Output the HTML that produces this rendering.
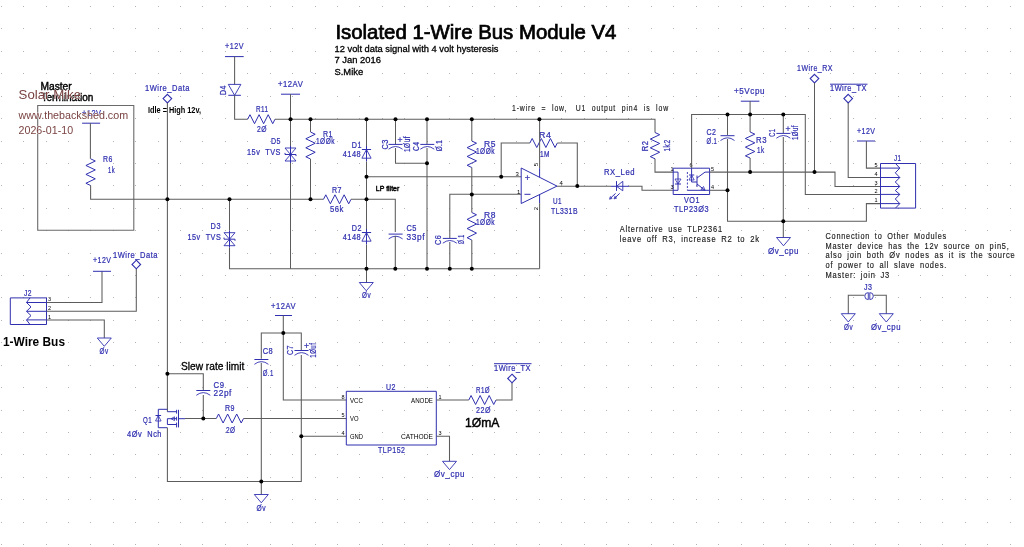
<!DOCTYPE html>
<html><head><meta charset="utf-8"><style>
html,body{margin:0;padding:0;background:#fff;width:1024px;height:547px;overflow:hidden}
svg text{white-space:pre}
svg{display:block;font-family:"Liberation Sans",sans-serif;will-change:transform}
</style></head><body>
<svg width="1024" height="547" viewBox="0 0 1024 547">
<rect width="1024" height="547" fill="#fff"/>
<path d="M1 6h1v1h-1zM1 28h1v1h-1zM1 51h1v1h-1zM1 73h1v1h-1zM1 96h1v1h-1zM1 118h1v1h-1zM1 141h1v1h-1zM1 163h1v1h-1zM1 185h1v1h-1zM1 208h1v1h-1zM1 230h1v1h-1zM1 253h1v1h-1zM1 275h1v1h-1zM1 297h1v1h-1zM1 320h1v1h-1zM1 342h1v1h-1zM1 365h1v1h-1zM1 387h1v1h-1zM1 410h1v1h-1zM1 432h1v1h-1zM1 454h1v1h-1zM1 477h1v1h-1zM1 499h1v1h-1zM1 522h1v1h-1zM1 544h1v1h-1zM23 6h1v1h-1zM23 28h1v1h-1zM23 51h1v1h-1zM23 73h1v1h-1zM23 96h1v1h-1zM23 118h1v1h-1zM23 141h1v1h-1zM23 163h1v1h-1zM23 185h1v1h-1zM23 208h1v1h-1zM23 230h1v1h-1zM23 253h1v1h-1zM23 275h1v1h-1zM23 297h1v1h-1zM23 320h1v1h-1zM23 342h1v1h-1zM23 365h1v1h-1zM23 387h1v1h-1zM23 410h1v1h-1zM23 432h1v1h-1zM23 454h1v1h-1zM23 477h1v1h-1zM23 499h1v1h-1zM23 522h1v1h-1zM23 544h1v1h-1zM46 6h1v1h-1zM46 28h1v1h-1zM46 51h1v1h-1zM46 73h1v1h-1zM46 96h1v1h-1zM46 118h1v1h-1zM46 141h1v1h-1zM46 163h1v1h-1zM46 185h1v1h-1zM46 208h1v1h-1zM46 230h1v1h-1zM46 253h1v1h-1zM46 275h1v1h-1zM46 297h1v1h-1zM46 320h1v1h-1zM46 342h1v1h-1zM46 365h1v1h-1zM46 387h1v1h-1zM46 410h1v1h-1zM46 432h1v1h-1zM46 454h1v1h-1zM46 477h1v1h-1zM46 499h1v1h-1zM46 522h1v1h-1zM46 544h1v1h-1zM68 6h1v1h-1zM68 28h1v1h-1zM68 51h1v1h-1zM68 73h1v1h-1zM68 96h1v1h-1zM68 118h1v1h-1zM68 141h1v1h-1zM68 163h1v1h-1zM68 185h1v1h-1zM68 208h1v1h-1zM68 230h1v1h-1zM68 253h1v1h-1zM68 275h1v1h-1zM68 297h1v1h-1zM68 320h1v1h-1zM68 342h1v1h-1zM68 365h1v1h-1zM68 387h1v1h-1zM68 410h1v1h-1zM68 432h1v1h-1zM68 454h1v1h-1zM68 477h1v1h-1zM68 499h1v1h-1zM68 522h1v1h-1zM68 544h1v1h-1zM90 6h1v1h-1zM90 28h1v1h-1zM90 51h1v1h-1zM90 73h1v1h-1zM90 96h1v1h-1zM90 118h1v1h-1zM90 141h1v1h-1zM90 163h1v1h-1zM90 185h1v1h-1zM90 208h1v1h-1zM90 230h1v1h-1zM90 253h1v1h-1zM90 275h1v1h-1zM90 297h1v1h-1zM90 320h1v1h-1zM90 342h1v1h-1zM90 365h1v1h-1zM90 387h1v1h-1zM90 410h1v1h-1zM90 432h1v1h-1zM90 454h1v1h-1zM90 477h1v1h-1zM90 499h1v1h-1zM90 522h1v1h-1zM90 544h1v1h-1zM113 6h1v1h-1zM113 28h1v1h-1zM113 51h1v1h-1zM113 73h1v1h-1zM113 96h1v1h-1zM113 118h1v1h-1zM113 141h1v1h-1zM113 163h1v1h-1zM113 185h1v1h-1zM113 208h1v1h-1zM113 230h1v1h-1zM113 253h1v1h-1zM113 275h1v1h-1zM113 297h1v1h-1zM113 320h1v1h-1zM113 342h1v1h-1zM113 365h1v1h-1zM113 387h1v1h-1zM113 410h1v1h-1zM113 432h1v1h-1zM113 454h1v1h-1zM113 477h1v1h-1zM113 499h1v1h-1zM113 522h1v1h-1zM113 544h1v1h-1zM135 6h1v1h-1zM135 28h1v1h-1zM135 51h1v1h-1zM135 73h1v1h-1zM135 96h1v1h-1zM135 118h1v1h-1zM135 141h1v1h-1zM135 163h1v1h-1zM135 185h1v1h-1zM135 208h1v1h-1zM135 230h1v1h-1zM135 253h1v1h-1zM135 275h1v1h-1zM135 297h1v1h-1zM135 320h1v1h-1zM135 342h1v1h-1zM135 365h1v1h-1zM135 387h1v1h-1zM135 410h1v1h-1zM135 432h1v1h-1zM135 454h1v1h-1zM135 477h1v1h-1zM135 499h1v1h-1zM135 522h1v1h-1zM135 544h1v1h-1zM158 6h1v1h-1zM158 28h1v1h-1zM158 51h1v1h-1zM158 73h1v1h-1zM158 96h1v1h-1zM158 118h1v1h-1zM158 141h1v1h-1zM158 163h1v1h-1zM158 185h1v1h-1zM158 208h1v1h-1zM158 230h1v1h-1zM158 253h1v1h-1zM158 275h1v1h-1zM158 297h1v1h-1zM158 320h1v1h-1zM158 342h1v1h-1zM158 365h1v1h-1zM158 387h1v1h-1zM158 410h1v1h-1zM158 432h1v1h-1zM158 454h1v1h-1zM158 477h1v1h-1zM158 499h1v1h-1zM158 522h1v1h-1zM158 544h1v1h-1zM180 6h1v1h-1zM180 28h1v1h-1zM180 51h1v1h-1zM180 73h1v1h-1zM180 96h1v1h-1zM180 118h1v1h-1zM180 141h1v1h-1zM180 163h1v1h-1zM180 185h1v1h-1zM180 208h1v1h-1zM180 230h1v1h-1zM180 253h1v1h-1zM180 275h1v1h-1zM180 297h1v1h-1zM180 320h1v1h-1zM180 342h1v1h-1zM180 365h1v1h-1zM180 387h1v1h-1zM180 410h1v1h-1zM180 432h1v1h-1zM180 454h1v1h-1zM180 477h1v1h-1zM180 499h1v1h-1zM180 522h1v1h-1zM180 544h1v1h-1zM202 6h1v1h-1zM202 28h1v1h-1zM202 51h1v1h-1zM202 73h1v1h-1zM202 96h1v1h-1zM202 118h1v1h-1zM202 141h1v1h-1zM202 163h1v1h-1zM202 185h1v1h-1zM202 208h1v1h-1zM202 230h1v1h-1zM202 253h1v1h-1zM202 275h1v1h-1zM202 297h1v1h-1zM202 320h1v1h-1zM202 342h1v1h-1zM202 365h1v1h-1zM202 387h1v1h-1zM202 410h1v1h-1zM202 432h1v1h-1zM202 454h1v1h-1zM202 477h1v1h-1zM202 499h1v1h-1zM202 522h1v1h-1zM202 544h1v1h-1zM225 6h1v1h-1zM225 28h1v1h-1zM225 51h1v1h-1zM225 73h1v1h-1zM225 96h1v1h-1zM225 118h1v1h-1zM225 141h1v1h-1zM225 163h1v1h-1zM225 185h1v1h-1zM225 208h1v1h-1zM225 230h1v1h-1zM225 253h1v1h-1zM225 275h1v1h-1zM225 297h1v1h-1zM225 320h1v1h-1zM225 342h1v1h-1zM225 365h1v1h-1zM225 387h1v1h-1zM225 410h1v1h-1zM225 432h1v1h-1zM225 454h1v1h-1zM225 477h1v1h-1zM225 499h1v1h-1zM225 522h1v1h-1zM225 544h1v1h-1zM247 6h1v1h-1zM247 28h1v1h-1zM247 51h1v1h-1zM247 73h1v1h-1zM247 96h1v1h-1zM247 118h1v1h-1zM247 141h1v1h-1zM247 163h1v1h-1zM247 185h1v1h-1zM247 208h1v1h-1zM247 230h1v1h-1zM247 253h1v1h-1zM247 275h1v1h-1zM247 297h1v1h-1zM247 320h1v1h-1zM247 342h1v1h-1zM247 365h1v1h-1zM247 387h1v1h-1zM247 410h1v1h-1zM247 432h1v1h-1zM247 454h1v1h-1zM247 477h1v1h-1zM247 499h1v1h-1zM247 522h1v1h-1zM247 544h1v1h-1zM270 6h1v1h-1zM270 28h1v1h-1zM270 51h1v1h-1zM270 73h1v1h-1zM270 96h1v1h-1zM270 118h1v1h-1zM270 141h1v1h-1zM270 163h1v1h-1zM270 185h1v1h-1zM270 208h1v1h-1zM270 230h1v1h-1zM270 253h1v1h-1zM270 275h1v1h-1zM270 297h1v1h-1zM270 320h1v1h-1zM270 342h1v1h-1zM270 365h1v1h-1zM270 387h1v1h-1zM270 410h1v1h-1zM270 432h1v1h-1zM270 454h1v1h-1zM270 477h1v1h-1zM270 499h1v1h-1zM270 522h1v1h-1zM270 544h1v1h-1zM292 6h1v1h-1zM292 28h1v1h-1zM292 51h1v1h-1zM292 73h1v1h-1zM292 96h1v1h-1zM292 118h1v1h-1zM292 141h1v1h-1zM292 163h1v1h-1zM292 185h1v1h-1zM292 208h1v1h-1zM292 230h1v1h-1zM292 253h1v1h-1zM292 275h1v1h-1zM292 297h1v1h-1zM292 320h1v1h-1zM292 342h1v1h-1zM292 365h1v1h-1zM292 387h1v1h-1zM292 410h1v1h-1zM292 432h1v1h-1zM292 454h1v1h-1zM292 477h1v1h-1zM292 499h1v1h-1zM292 522h1v1h-1zM292 544h1v1h-1zM315 6h1v1h-1zM315 28h1v1h-1zM315 51h1v1h-1zM315 73h1v1h-1zM315 96h1v1h-1zM315 118h1v1h-1zM315 141h1v1h-1zM315 163h1v1h-1zM315 185h1v1h-1zM315 208h1v1h-1zM315 230h1v1h-1zM315 253h1v1h-1zM315 275h1v1h-1zM315 297h1v1h-1zM315 320h1v1h-1zM315 342h1v1h-1zM315 365h1v1h-1zM315 387h1v1h-1zM315 410h1v1h-1zM315 432h1v1h-1zM315 454h1v1h-1zM315 477h1v1h-1zM315 499h1v1h-1zM315 522h1v1h-1zM315 544h1v1h-1zM337 6h1v1h-1zM337 28h1v1h-1zM337 51h1v1h-1zM337 73h1v1h-1zM337 96h1v1h-1zM337 118h1v1h-1zM337 141h1v1h-1zM337 163h1v1h-1zM337 185h1v1h-1zM337 208h1v1h-1zM337 230h1v1h-1zM337 253h1v1h-1zM337 275h1v1h-1zM337 297h1v1h-1zM337 320h1v1h-1zM337 342h1v1h-1zM337 365h1v1h-1zM337 387h1v1h-1zM337 410h1v1h-1zM337 432h1v1h-1zM337 454h1v1h-1zM337 477h1v1h-1zM337 499h1v1h-1zM337 522h1v1h-1zM337 544h1v1h-1zM359 6h1v1h-1zM359 28h1v1h-1zM359 51h1v1h-1zM359 73h1v1h-1zM359 96h1v1h-1zM359 118h1v1h-1zM359 141h1v1h-1zM359 163h1v1h-1zM359 185h1v1h-1zM359 208h1v1h-1zM359 230h1v1h-1zM359 253h1v1h-1zM359 275h1v1h-1zM359 297h1v1h-1zM359 320h1v1h-1zM359 342h1v1h-1zM359 365h1v1h-1zM359 387h1v1h-1zM359 410h1v1h-1zM359 432h1v1h-1zM359 454h1v1h-1zM359 477h1v1h-1zM359 499h1v1h-1zM359 522h1v1h-1zM359 544h1v1h-1zM382 6h1v1h-1zM382 28h1v1h-1zM382 51h1v1h-1zM382 73h1v1h-1zM382 96h1v1h-1zM382 118h1v1h-1zM382 141h1v1h-1zM382 163h1v1h-1zM382 185h1v1h-1zM382 208h1v1h-1zM382 230h1v1h-1zM382 253h1v1h-1zM382 275h1v1h-1zM382 297h1v1h-1zM382 320h1v1h-1zM382 342h1v1h-1zM382 365h1v1h-1zM382 387h1v1h-1zM382 410h1v1h-1zM382 432h1v1h-1zM382 454h1v1h-1zM382 477h1v1h-1zM382 499h1v1h-1zM382 522h1v1h-1zM382 544h1v1h-1zM404 6h1v1h-1zM404 28h1v1h-1zM404 51h1v1h-1zM404 73h1v1h-1zM404 96h1v1h-1zM404 118h1v1h-1zM404 141h1v1h-1zM404 163h1v1h-1zM404 185h1v1h-1zM404 208h1v1h-1zM404 230h1v1h-1zM404 253h1v1h-1zM404 275h1v1h-1zM404 297h1v1h-1zM404 320h1v1h-1zM404 342h1v1h-1zM404 365h1v1h-1zM404 387h1v1h-1zM404 410h1v1h-1zM404 432h1v1h-1zM404 454h1v1h-1zM404 477h1v1h-1zM404 499h1v1h-1zM404 522h1v1h-1zM404 544h1v1h-1zM427 6h1v1h-1zM427 28h1v1h-1zM427 51h1v1h-1zM427 73h1v1h-1zM427 96h1v1h-1zM427 118h1v1h-1zM427 141h1v1h-1zM427 163h1v1h-1zM427 185h1v1h-1zM427 208h1v1h-1zM427 230h1v1h-1zM427 253h1v1h-1zM427 275h1v1h-1zM427 297h1v1h-1zM427 320h1v1h-1zM427 342h1v1h-1zM427 365h1v1h-1zM427 387h1v1h-1zM427 410h1v1h-1zM427 432h1v1h-1zM427 454h1v1h-1zM427 477h1v1h-1zM427 499h1v1h-1zM427 522h1v1h-1zM427 544h1v1h-1zM449 6h1v1h-1zM449 28h1v1h-1zM449 51h1v1h-1zM449 73h1v1h-1zM449 96h1v1h-1zM449 118h1v1h-1zM449 141h1v1h-1zM449 163h1v1h-1zM449 185h1v1h-1zM449 208h1v1h-1zM449 230h1v1h-1zM449 253h1v1h-1zM449 275h1v1h-1zM449 297h1v1h-1zM449 320h1v1h-1zM449 342h1v1h-1zM449 365h1v1h-1zM449 387h1v1h-1zM449 410h1v1h-1zM449 432h1v1h-1zM449 454h1v1h-1zM449 477h1v1h-1zM449 499h1v1h-1zM449 522h1v1h-1zM449 544h1v1h-1zM472 6h1v1h-1zM472 28h1v1h-1zM472 51h1v1h-1zM472 73h1v1h-1zM472 96h1v1h-1zM472 118h1v1h-1zM472 141h1v1h-1zM472 163h1v1h-1zM472 185h1v1h-1zM472 208h1v1h-1zM472 230h1v1h-1zM472 253h1v1h-1zM472 275h1v1h-1zM472 297h1v1h-1zM472 320h1v1h-1zM472 342h1v1h-1zM472 365h1v1h-1zM472 387h1v1h-1zM472 410h1v1h-1zM472 432h1v1h-1zM472 454h1v1h-1zM472 477h1v1h-1zM472 499h1v1h-1zM472 522h1v1h-1zM472 544h1v1h-1zM494 6h1v1h-1zM494 28h1v1h-1zM494 51h1v1h-1zM494 73h1v1h-1zM494 96h1v1h-1zM494 118h1v1h-1zM494 141h1v1h-1zM494 163h1v1h-1zM494 185h1v1h-1zM494 208h1v1h-1zM494 230h1v1h-1zM494 253h1v1h-1zM494 275h1v1h-1zM494 297h1v1h-1zM494 320h1v1h-1zM494 342h1v1h-1zM494 365h1v1h-1zM494 387h1v1h-1zM494 410h1v1h-1zM494 432h1v1h-1zM494 454h1v1h-1zM494 477h1v1h-1zM494 499h1v1h-1zM494 522h1v1h-1zM494 544h1v1h-1zM516 6h1v1h-1zM516 28h1v1h-1zM516 51h1v1h-1zM516 73h1v1h-1zM516 96h1v1h-1zM516 118h1v1h-1zM516 141h1v1h-1zM516 163h1v1h-1zM516 185h1v1h-1zM516 208h1v1h-1zM516 230h1v1h-1zM516 253h1v1h-1zM516 275h1v1h-1zM516 297h1v1h-1zM516 320h1v1h-1zM516 342h1v1h-1zM516 365h1v1h-1zM516 387h1v1h-1zM516 410h1v1h-1zM516 432h1v1h-1zM516 454h1v1h-1zM516 477h1v1h-1zM516 499h1v1h-1zM516 522h1v1h-1zM516 544h1v1h-1zM539 6h1v1h-1zM539 28h1v1h-1zM539 51h1v1h-1zM539 73h1v1h-1zM539 96h1v1h-1zM539 118h1v1h-1zM539 141h1v1h-1zM539 163h1v1h-1zM539 185h1v1h-1zM539 208h1v1h-1zM539 230h1v1h-1zM539 253h1v1h-1zM539 275h1v1h-1zM539 297h1v1h-1zM539 320h1v1h-1zM539 342h1v1h-1zM539 365h1v1h-1zM539 387h1v1h-1zM539 410h1v1h-1zM539 432h1v1h-1zM539 454h1v1h-1zM539 477h1v1h-1zM539 499h1v1h-1zM539 522h1v1h-1zM539 544h1v1h-1zM561 6h1v1h-1zM561 28h1v1h-1zM561 51h1v1h-1zM561 73h1v1h-1zM561 96h1v1h-1zM561 118h1v1h-1zM561 141h1v1h-1zM561 163h1v1h-1zM561 185h1v1h-1zM561 208h1v1h-1zM561 230h1v1h-1zM561 253h1v1h-1zM561 275h1v1h-1zM561 297h1v1h-1zM561 320h1v1h-1zM561 342h1v1h-1zM561 365h1v1h-1zM561 387h1v1h-1zM561 410h1v1h-1zM561 432h1v1h-1zM561 454h1v1h-1zM561 477h1v1h-1zM561 499h1v1h-1zM561 522h1v1h-1zM561 544h1v1h-1zM584 6h1v1h-1zM584 28h1v1h-1zM584 51h1v1h-1zM584 73h1v1h-1zM584 96h1v1h-1zM584 118h1v1h-1zM584 141h1v1h-1zM584 163h1v1h-1zM584 185h1v1h-1zM584 208h1v1h-1zM584 230h1v1h-1zM584 253h1v1h-1zM584 275h1v1h-1zM584 297h1v1h-1zM584 320h1v1h-1zM584 342h1v1h-1zM584 365h1v1h-1zM584 387h1v1h-1zM584 410h1v1h-1zM584 432h1v1h-1zM584 454h1v1h-1zM584 477h1v1h-1zM584 499h1v1h-1zM584 522h1v1h-1zM584 544h1v1h-1zM606 6h1v1h-1zM606 28h1v1h-1zM606 51h1v1h-1zM606 73h1v1h-1zM606 96h1v1h-1zM606 118h1v1h-1zM606 141h1v1h-1zM606 163h1v1h-1zM606 185h1v1h-1zM606 208h1v1h-1zM606 230h1v1h-1zM606 253h1v1h-1zM606 275h1v1h-1zM606 297h1v1h-1zM606 320h1v1h-1zM606 342h1v1h-1zM606 365h1v1h-1zM606 387h1v1h-1zM606 410h1v1h-1zM606 432h1v1h-1zM606 454h1v1h-1zM606 477h1v1h-1zM606 499h1v1h-1zM606 522h1v1h-1zM606 544h1v1h-1zM628 6h1v1h-1zM628 28h1v1h-1zM628 51h1v1h-1zM628 73h1v1h-1zM628 96h1v1h-1zM628 118h1v1h-1zM628 141h1v1h-1zM628 163h1v1h-1zM628 185h1v1h-1zM628 208h1v1h-1zM628 230h1v1h-1zM628 253h1v1h-1zM628 275h1v1h-1zM628 297h1v1h-1zM628 320h1v1h-1zM628 342h1v1h-1zM628 365h1v1h-1zM628 387h1v1h-1zM628 410h1v1h-1zM628 432h1v1h-1zM628 454h1v1h-1zM628 477h1v1h-1zM628 499h1v1h-1zM628 522h1v1h-1zM628 544h1v1h-1zM651 6h1v1h-1zM651 28h1v1h-1zM651 51h1v1h-1zM651 73h1v1h-1zM651 96h1v1h-1zM651 118h1v1h-1zM651 141h1v1h-1zM651 163h1v1h-1zM651 185h1v1h-1zM651 208h1v1h-1zM651 230h1v1h-1zM651 253h1v1h-1zM651 275h1v1h-1zM651 297h1v1h-1zM651 320h1v1h-1zM651 342h1v1h-1zM651 365h1v1h-1zM651 387h1v1h-1zM651 410h1v1h-1zM651 432h1v1h-1zM651 454h1v1h-1zM651 477h1v1h-1zM651 499h1v1h-1zM651 522h1v1h-1zM651 544h1v1h-1zM673 6h1v1h-1zM673 28h1v1h-1zM673 51h1v1h-1zM673 73h1v1h-1zM673 96h1v1h-1zM673 118h1v1h-1zM673 141h1v1h-1zM673 163h1v1h-1zM673 185h1v1h-1zM673 208h1v1h-1zM673 230h1v1h-1zM673 253h1v1h-1zM673 275h1v1h-1zM673 297h1v1h-1zM673 320h1v1h-1zM673 342h1v1h-1zM673 365h1v1h-1zM673 387h1v1h-1zM673 410h1v1h-1zM673 432h1v1h-1zM673 454h1v1h-1zM673 477h1v1h-1zM673 499h1v1h-1zM673 522h1v1h-1zM673 544h1v1h-1zM696 6h1v1h-1zM696 28h1v1h-1zM696 51h1v1h-1zM696 73h1v1h-1zM696 96h1v1h-1zM696 118h1v1h-1zM696 141h1v1h-1zM696 163h1v1h-1zM696 185h1v1h-1zM696 208h1v1h-1zM696 230h1v1h-1zM696 253h1v1h-1zM696 275h1v1h-1zM696 297h1v1h-1zM696 320h1v1h-1zM696 342h1v1h-1zM696 365h1v1h-1zM696 387h1v1h-1zM696 410h1v1h-1zM696 432h1v1h-1zM696 454h1v1h-1zM696 477h1v1h-1zM696 499h1v1h-1zM696 522h1v1h-1zM696 544h1v1h-1zM718 6h1v1h-1zM718 28h1v1h-1zM718 51h1v1h-1zM718 73h1v1h-1zM718 96h1v1h-1zM718 118h1v1h-1zM718 141h1v1h-1zM718 163h1v1h-1zM718 185h1v1h-1zM718 208h1v1h-1zM718 230h1v1h-1zM718 253h1v1h-1zM718 275h1v1h-1zM718 297h1v1h-1zM718 320h1v1h-1zM718 342h1v1h-1zM718 365h1v1h-1zM718 387h1v1h-1zM718 410h1v1h-1zM718 432h1v1h-1zM718 454h1v1h-1zM718 477h1v1h-1zM718 499h1v1h-1zM718 522h1v1h-1zM718 544h1v1h-1zM741 6h1v1h-1zM741 28h1v1h-1zM741 51h1v1h-1zM741 73h1v1h-1zM741 96h1v1h-1zM741 118h1v1h-1zM741 141h1v1h-1zM741 163h1v1h-1zM741 185h1v1h-1zM741 208h1v1h-1zM741 230h1v1h-1zM741 253h1v1h-1zM741 275h1v1h-1zM741 297h1v1h-1zM741 320h1v1h-1zM741 342h1v1h-1zM741 365h1v1h-1zM741 387h1v1h-1zM741 410h1v1h-1zM741 432h1v1h-1zM741 454h1v1h-1zM741 477h1v1h-1zM741 499h1v1h-1zM741 522h1v1h-1zM741 544h1v1h-1zM763 6h1v1h-1zM763 28h1v1h-1zM763 51h1v1h-1zM763 73h1v1h-1zM763 96h1v1h-1zM763 118h1v1h-1zM763 141h1v1h-1zM763 163h1v1h-1zM763 185h1v1h-1zM763 208h1v1h-1zM763 230h1v1h-1zM763 253h1v1h-1zM763 275h1v1h-1zM763 297h1v1h-1zM763 320h1v1h-1zM763 342h1v1h-1zM763 365h1v1h-1zM763 387h1v1h-1zM763 410h1v1h-1zM763 432h1v1h-1zM763 454h1v1h-1zM763 477h1v1h-1zM763 499h1v1h-1zM763 522h1v1h-1zM763 544h1v1h-1zM785 6h1v1h-1zM785 28h1v1h-1zM785 51h1v1h-1zM785 73h1v1h-1zM785 96h1v1h-1zM785 118h1v1h-1zM785 141h1v1h-1zM785 163h1v1h-1zM785 185h1v1h-1zM785 208h1v1h-1zM785 230h1v1h-1zM785 253h1v1h-1zM785 275h1v1h-1zM785 297h1v1h-1zM785 320h1v1h-1zM785 342h1v1h-1zM785 365h1v1h-1zM785 387h1v1h-1zM785 410h1v1h-1zM785 432h1v1h-1zM785 454h1v1h-1zM785 477h1v1h-1zM785 499h1v1h-1zM785 522h1v1h-1zM785 544h1v1h-1zM808 6h1v1h-1zM808 28h1v1h-1zM808 51h1v1h-1zM808 73h1v1h-1zM808 96h1v1h-1zM808 118h1v1h-1zM808 141h1v1h-1zM808 163h1v1h-1zM808 185h1v1h-1zM808 208h1v1h-1zM808 230h1v1h-1zM808 253h1v1h-1zM808 275h1v1h-1zM808 297h1v1h-1zM808 320h1v1h-1zM808 342h1v1h-1zM808 365h1v1h-1zM808 387h1v1h-1zM808 410h1v1h-1zM808 432h1v1h-1zM808 454h1v1h-1zM808 477h1v1h-1zM808 499h1v1h-1zM808 522h1v1h-1zM808 544h1v1h-1zM830 6h1v1h-1zM830 28h1v1h-1zM830 51h1v1h-1zM830 73h1v1h-1zM830 96h1v1h-1zM830 118h1v1h-1zM830 141h1v1h-1zM830 163h1v1h-1zM830 185h1v1h-1zM830 208h1v1h-1zM830 230h1v1h-1zM830 253h1v1h-1zM830 275h1v1h-1zM830 297h1v1h-1zM830 320h1v1h-1zM830 342h1v1h-1zM830 365h1v1h-1zM830 387h1v1h-1zM830 410h1v1h-1zM830 432h1v1h-1zM830 454h1v1h-1zM830 477h1v1h-1zM830 499h1v1h-1zM830 522h1v1h-1zM830 544h1v1h-1zM853 6h1v1h-1zM853 28h1v1h-1zM853 51h1v1h-1zM853 73h1v1h-1zM853 96h1v1h-1zM853 118h1v1h-1zM853 141h1v1h-1zM853 163h1v1h-1zM853 185h1v1h-1zM853 208h1v1h-1zM853 230h1v1h-1zM853 253h1v1h-1zM853 275h1v1h-1zM853 297h1v1h-1zM853 320h1v1h-1zM853 342h1v1h-1zM853 365h1v1h-1zM853 387h1v1h-1zM853 410h1v1h-1zM853 432h1v1h-1zM853 454h1v1h-1zM853 477h1v1h-1zM853 499h1v1h-1zM853 522h1v1h-1zM853 544h1v1h-1zM875 6h1v1h-1zM875 28h1v1h-1zM875 51h1v1h-1zM875 73h1v1h-1zM875 96h1v1h-1zM875 118h1v1h-1zM875 141h1v1h-1zM875 163h1v1h-1zM875 185h1v1h-1zM875 208h1v1h-1zM875 230h1v1h-1zM875 253h1v1h-1zM875 275h1v1h-1zM875 297h1v1h-1zM875 320h1v1h-1zM875 342h1v1h-1zM875 365h1v1h-1zM875 387h1v1h-1zM875 410h1v1h-1zM875 432h1v1h-1zM875 454h1v1h-1zM875 477h1v1h-1zM875 499h1v1h-1zM875 522h1v1h-1zM875 544h1v1h-1zM898 6h1v1h-1zM898 28h1v1h-1zM898 51h1v1h-1zM898 73h1v1h-1zM898 96h1v1h-1zM898 118h1v1h-1zM898 141h1v1h-1zM898 163h1v1h-1zM898 185h1v1h-1zM898 208h1v1h-1zM898 230h1v1h-1zM898 253h1v1h-1zM898 275h1v1h-1zM898 297h1v1h-1zM898 320h1v1h-1zM898 342h1v1h-1zM898 365h1v1h-1zM898 387h1v1h-1zM898 410h1v1h-1zM898 432h1v1h-1zM898 454h1v1h-1zM898 477h1v1h-1zM898 499h1v1h-1zM898 522h1v1h-1zM898 544h1v1h-1zM920 6h1v1h-1zM920 28h1v1h-1zM920 51h1v1h-1zM920 73h1v1h-1zM920 96h1v1h-1zM920 118h1v1h-1zM920 141h1v1h-1zM920 163h1v1h-1zM920 185h1v1h-1zM920 208h1v1h-1zM920 230h1v1h-1zM920 253h1v1h-1zM920 275h1v1h-1zM920 297h1v1h-1zM920 320h1v1h-1zM920 342h1v1h-1zM920 365h1v1h-1zM920 387h1v1h-1zM920 410h1v1h-1zM920 432h1v1h-1zM920 454h1v1h-1zM920 477h1v1h-1zM920 499h1v1h-1zM920 522h1v1h-1zM920 544h1v1h-1zM942 6h1v1h-1zM942 28h1v1h-1zM942 51h1v1h-1zM942 73h1v1h-1zM942 96h1v1h-1zM942 118h1v1h-1zM942 141h1v1h-1zM942 163h1v1h-1zM942 185h1v1h-1zM942 208h1v1h-1zM942 230h1v1h-1zM942 253h1v1h-1zM942 275h1v1h-1zM942 297h1v1h-1zM942 320h1v1h-1zM942 342h1v1h-1zM942 365h1v1h-1zM942 387h1v1h-1zM942 410h1v1h-1zM942 432h1v1h-1zM942 454h1v1h-1zM942 477h1v1h-1zM942 499h1v1h-1zM942 522h1v1h-1zM942 544h1v1h-1zM965 6h1v1h-1zM965 28h1v1h-1zM965 51h1v1h-1zM965 73h1v1h-1zM965 96h1v1h-1zM965 118h1v1h-1zM965 141h1v1h-1zM965 163h1v1h-1zM965 185h1v1h-1zM965 208h1v1h-1zM965 230h1v1h-1zM965 253h1v1h-1zM965 275h1v1h-1zM965 297h1v1h-1zM965 320h1v1h-1zM965 342h1v1h-1zM965 365h1v1h-1zM965 387h1v1h-1zM965 410h1v1h-1zM965 432h1v1h-1zM965 454h1v1h-1zM965 477h1v1h-1zM965 499h1v1h-1zM965 522h1v1h-1zM965 544h1v1h-1zM987 6h1v1h-1zM987 28h1v1h-1zM987 51h1v1h-1zM987 73h1v1h-1zM987 96h1v1h-1zM987 118h1v1h-1zM987 141h1v1h-1zM987 163h1v1h-1zM987 185h1v1h-1zM987 208h1v1h-1zM987 230h1v1h-1zM987 253h1v1h-1zM987 275h1v1h-1zM987 297h1v1h-1zM987 320h1v1h-1zM987 342h1v1h-1zM987 365h1v1h-1zM987 387h1v1h-1zM987 410h1v1h-1zM987 432h1v1h-1zM987 454h1v1h-1zM987 477h1v1h-1zM987 499h1v1h-1zM987 522h1v1h-1zM987 544h1v1h-1zM1010 6h1v1h-1zM1010 28h1v1h-1zM1010 51h1v1h-1zM1010 73h1v1h-1zM1010 96h1v1h-1zM1010 118h1v1h-1zM1010 141h1v1h-1zM1010 163h1v1h-1zM1010 185h1v1h-1zM1010 208h1v1h-1zM1010 230h1v1h-1zM1010 253h1v1h-1zM1010 275h1v1h-1zM1010 297h1v1h-1zM1010 320h1v1h-1zM1010 342h1v1h-1zM1010 365h1v1h-1zM1010 387h1v1h-1zM1010 410h1v1h-1zM1010 432h1v1h-1zM1010 454h1v1h-1zM1010 477h1v1h-1zM1010 499h1v1h-1zM1010 522h1v1h-1zM1010 544h1v1h-1z" fill="#b4b4b4" shape-rendering="crispEdges"/>
<text x="335.4" y="38.9" font-size="19.3" fill="#000" textLength="281" lengthAdjust="spacingAndGlyphs" stroke="#000" stroke-width="0.7">Isolated 1-Wire Bus Module V4</text>
<text x="334.5" y="51.8" font-size="9.4" fill="#000" textLength="164" lengthAdjust="spacingAndGlyphs" stroke="#000" stroke-width="0.3">12 volt data signal with 4 volt hysteresis</text>
<text x="334.5" y="62.8" font-size="9.4" fill="#000" stroke="#000" stroke-width="0.3">7 Jan 2016</text>
<text x="334.5" y="74.7" font-size="9.4" fill="#000" stroke="#000" stroke-width="0.3">S.Mike</text>
<text x="40.5" y="90.3" font-size="10" fill="#000" textLength="31.2" lengthAdjust="spacingAndGlyphs" stroke="#000" stroke-width="0.4">Master</text>
<text x="41.5" y="101.1" font-size="10" fill="#000" textLength="51.8" lengthAdjust="spacingAndGlyphs" stroke="#000" stroke-width="0.4">Termination</text>
<polygon points="37.7,105.5 133.8,105.5 133.8,230.2 37.7,230.2" fill="none" stroke="#6a6a6a" stroke-width="1.1"/>
<text x="82" y="116" font-size="8.6" fill="#2f2fb0" textLength="19.5" lengthAdjust="spacingAndGlyphs" stroke="#2f2fb0" stroke-width="0.22" letter-spacing="0.6">+12V</text>
<polyline points="82.1,123.2 100.1,123.2" fill="none" stroke="#2f2fb0" stroke-width="1"/>
<polyline points="90.4,123.2 90.4,158.8" fill="none" stroke="#5c5c5c" stroke-width="1.05"/>
<polyline points="90.6,158.8 95.3,161.03 85.9,165.48 95.3,169.93 85.9,174.38 95.3,178.82 85.9,183.28 90.6,185.5" fill="none" stroke="#2f2fb0" stroke-width="1"/>
<text x="103" y="161.8" font-size="8.6" fill="#2f2fb0" textLength="9.8" lengthAdjust="spacingAndGlyphs" stroke="#2f2fb0" stroke-width="0.22" letter-spacing="0.6">R6</text>
<text x="108" y="173" font-size="8.6" fill="#2f2fb0" textLength="7" lengthAdjust="spacingAndGlyphs" stroke="#2f2fb0" stroke-width="0.22" letter-spacing="0.6">1k</text>
<polyline points="90.6,185.5 90.6,199.3 323.5,199.3" fill="none" stroke="#5c5c5c" stroke-width="1.05"/>
<polyline points="323.5,199.3 325.79,194.8 330.38,203.8 334.96,194.8 339.54,203.8 344.12,194.8 348.71,203.8 351,199.3" fill="none" stroke="#2f2fb0" stroke-width="1"/>
<polyline points="351,199.3 395.3,199.3 395.3,232" fill="none" stroke="#5c5c5c" stroke-width="1.05"/>
<text x="332" y="193" font-size="8.6" fill="#2f2fb0" textLength="10" lengthAdjust="spacingAndGlyphs" stroke="#2f2fb0" stroke-width="0.22" letter-spacing="0.6">R7</text>
<text x="330" y="212" font-size="8.6" fill="#2f2fb0" textLength="14" lengthAdjust="spacingAndGlyphs" stroke="#2f2fb0" stroke-width="0.22" letter-spacing="0.6">56k</text>
<text x="145" y="91" font-size="8.6" fill="#2f2fb0" textLength="45" lengthAdjust="spacingAndGlyphs" stroke="#2f2fb0" stroke-width="0.22" letter-spacing="0.6">1Wire_Data</text>
<polygon points="167.4,94.3 171.7,98.6 167.4,102.9 163.1,98.6" fill="none" stroke="#2f2fb0" stroke-width="1.1"/>
<polyline points="167.4,102.9 167.4,411.7" fill="none" stroke="#5c5c5c" stroke-width="1.05"/>
<text x="148" y="113.3" font-size="8.4" fill="#000" font-weight="bold" textLength="53" lengthAdjust="spacingAndGlyphs">Idle = High 12v,</text>
<polyline points="229.5,199.3 229.5,230.7" fill="none" stroke="#5c5c5c" stroke-width="1.05"/>
<polygon points="224,232.7 235,232.7 229.5,239.2" fill="none" stroke="#2f2fb0" stroke-width="0.9"/>
<polygon points="224,245.7 235,245.7 229.5,239.2" fill="none" stroke="#2f2fb0" stroke-width="0.9"/>
<polyline points="224,237.6 224,239.2 235,239.2 235,240.8" fill="none" stroke="#2f2fb0" stroke-width="1"/>
<polyline points="229.5,230.7 229.5,247.7" fill="none" stroke="#2f2fb0" stroke-width="1"/>
<polyline points="229.5,247.7 229.5,268.8 539.6,268.8" fill="none" stroke="#5c5c5c" stroke-width="1.05"/>
<text x="210.6" y="229.2" font-size="8.6" fill="#2f2fb0" textLength="10.4" lengthAdjust="spacingAndGlyphs" stroke="#2f2fb0" stroke-width="0.22" letter-spacing="0.6">D3</text>
<text x="187.5" y="240.3" font-size="8.6" fill="#2f2fb0" textLength="33.8" lengthAdjust="spacingAndGlyphs" stroke="#2f2fb0" stroke-width="0.22" letter-spacing="0.6">15v  TVS</text>
<text x="225" y="48.8" font-size="8.6" fill="#2f2fb0" textLength="19" lengthAdjust="spacingAndGlyphs" stroke="#2f2fb0" stroke-width="0.22" letter-spacing="0.6">+12V</text>
<polyline points="225,56.6 243.7,56.6" fill="none" stroke="#2f2fb0" stroke-width="1"/>
<polyline points="234.6,56.6 234.6,84.4" fill="none" stroke="#5c5c5c" stroke-width="1.05"/>
<polygon points="228.3,84.4 240.9,84.4 234.6,95.3" fill="none" stroke="#2f2fb0" stroke-width="0.9"/>
<polyline points="228.3,95.3 240.9,95.3" fill="none" stroke="#2f2fb0" stroke-width="1"/>
<polyline points="234.6,95.3 234.6,119.2 247.7,119.2" fill="none" stroke="#5c5c5c" stroke-width="1.05"/>
<text x="225.8" y="95.1" font-size="8.6" fill="#2f2fb0" textLength="9.9" lengthAdjust="spacingAndGlyphs" stroke="#2f2fb0" stroke-width="0.22" transform="rotate(-90 225.8 95.1)" letter-spacing="0.6">D4</text>
<polyline points="247.7,119.2 249.97,114.7 254.52,123.7 259.07,114.7 263.62,123.7 268.18,114.7 272.73,123.7 275,119.2" fill="none" stroke="#2f2fb0" stroke-width="1"/>
<text x="256" y="112.2" font-size="8.6" fill="#2f2fb0" textLength="12.5" lengthAdjust="spacingAndGlyphs" stroke="#2f2fb0" stroke-width="0.22" letter-spacing="0.6">R11</text>
<text x="257" y="132.2" font-size="8.6" fill="#2f2fb0" textLength="10" lengthAdjust="spacingAndGlyphs" stroke="#2f2fb0" stroke-width="0.22" letter-spacing="0.6">2Ø</text>
<polyline points="275,119.2 655,119.2 655,132.5" fill="none" stroke="#5c5c5c" stroke-width="1.05"/>
<text x="278" y="87" font-size="8.6" fill="#2f2fb0" textLength="25.3" lengthAdjust="spacingAndGlyphs" stroke="#2f2fb0" stroke-width="0.22" letter-spacing="0.6">+12AV</text>
<polyline points="281,94.2 300,94.2" fill="none" stroke="#2f2fb0" stroke-width="1"/>
<polyline points="290.5,94.2 290.5,146" fill="none" stroke="#5c5c5c" stroke-width="1.05"/>
<polygon points="285,148 296,148 290.5,154.5" fill="none" stroke="#2f2fb0" stroke-width="0.9"/>
<polygon points="285,161 296,161 290.5,154.5" fill="none" stroke="#2f2fb0" stroke-width="0.9"/>
<polyline points="285,152.9 285,154.5 296,154.5 296,156.1" fill="none" stroke="#2f2fb0" stroke-width="1"/>
<polyline points="290.5,146 290.5,163" fill="none" stroke="#2f2fb0" stroke-width="1"/>
<polyline points="290.5,163 290.5,268.8" fill="none" stroke="#5c5c5c" stroke-width="1.05"/>
<text x="271" y="144.2" font-size="8.6" fill="#2f2fb0" textLength="10" lengthAdjust="spacingAndGlyphs" stroke="#2f2fb0" stroke-width="0.22" letter-spacing="0.6">D5</text>
<text x="247" y="155.2" font-size="8.6" fill="#2f2fb0" textLength="34" lengthAdjust="spacingAndGlyphs" stroke="#2f2fb0" stroke-width="0.22" letter-spacing="0.6">15v  TVS</text>
<polyline points="310.5,119.2 310.5,132" fill="none" stroke="#5c5c5c" stroke-width="1.05"/>
<polyline points="310.5,132 315.2,134.25 305.8,138.75 315.2,143.25 305.8,147.75 315.2,152.25 305.8,156.75 310.5,159" fill="none" stroke="#2f2fb0" stroke-width="1"/>
<polyline points="310.5,159 310.5,199.3" fill="none" stroke="#5c5c5c" stroke-width="1.05"/>
<text x="323" y="137" font-size="8.6" fill="#2f2fb0" textLength="10" lengthAdjust="spacingAndGlyphs" stroke="#2f2fb0" stroke-width="0.22" letter-spacing="0.6">R1</text>
<text x="316" y="144.2" font-size="8.6" fill="#2f2fb0" textLength="19" lengthAdjust="spacingAndGlyphs" stroke="#2f2fb0" stroke-width="0.22" letter-spacing="0.6">1ØØk</text>
<polyline points="366.5,119.2 366.5,146" fill="none" stroke="#5c5c5c" stroke-width="1.05"/>
<polygon points="361.9,158.2 371.1,158.2 366.5,149.5" fill="none" stroke="#2f2fb0" stroke-width="0.9"/>
<polyline points="361.9,149.5 371.1,149.5" fill="none" stroke="#2f2fb0" stroke-width="1"/>
<polyline points="366.5,146 366.5,161.5" fill="none" stroke="#2f2fb0" stroke-width="1"/>
<polyline points="366.5,161.5 366.5,229" fill="none" stroke="#5c5c5c" stroke-width="1.05"/>
<polygon points="361.9,241.2 371.1,241.2 366.5,232.5" fill="none" stroke="#2f2fb0" stroke-width="0.9"/>
<polyline points="361.9,232.5 371.1,232.5" fill="none" stroke="#2f2fb0" stroke-width="1"/>
<polyline points="366.5,229 366.5,244.5" fill="none" stroke="#2f2fb0" stroke-width="1"/>
<polyline points="366.5,244.5 366.5,282.5" fill="none" stroke="#5c5c5c" stroke-width="1.05"/>
<polygon points="359.3,282.5 373.3,282.5 366.3,290.8" fill="none" stroke="#2f2fb0" stroke-width="0.9"/>
<text x="362" y="298.2" font-size="8.6" fill="#2f2fb0" textLength="9" lengthAdjust="spacingAndGlyphs" stroke="#2f2fb0" stroke-width="0.22" letter-spacing="0.6">Øv</text>
<text x="351.8" y="147.7" font-size="8.6" fill="#2f2fb0" textLength="10.2" lengthAdjust="spacingAndGlyphs" stroke="#2f2fb0" stroke-width="0.22" letter-spacing="0.6">D1</text>
<text x="342.7" y="156.5" font-size="8.6" fill="#2f2fb0" textLength="18.5" lengthAdjust="spacingAndGlyphs" stroke="#2f2fb0" stroke-width="0.22" letter-spacing="0.6">4148</text>
<text x="351.8" y="230.7" font-size="8.6" fill="#2f2fb0" textLength="10.2" lengthAdjust="spacingAndGlyphs" stroke="#2f2fb0" stroke-width="0.22" letter-spacing="0.6">D2</text>
<text x="342.7" y="239.5" font-size="8.6" fill="#2f2fb0" textLength="18.5" lengthAdjust="spacingAndGlyphs" stroke="#2f2fb0" stroke-width="0.22" letter-spacing="0.6">4148</text>
<polyline points="366.5,176.8 521.2,176.8" fill="none" stroke="#5c5c5c" stroke-width="1.05"/>
<text x="375.8" y="190.6" font-size="7.4" fill="#000" textLength="23.5" lengthAdjust="spacingAndGlyphs" stroke="#000" stroke-width="0.45">LP filter</text>
<polyline points="388.6,234.1 402.6,234.1" fill="none" stroke="#2f2fb0" stroke-width="1"/>
<path d="M388.6,238.9 Q395.6,233.5 402.6,238.9" fill="none" stroke="#2f2fb0" stroke-width="0.9"/>
<polyline points="395.3,236 395.3,268.8" fill="none" stroke="#5c5c5c" stroke-width="1.05"/>
<text x="406.5" y="230.8" font-size="8.6" fill="#2f2fb0" textLength="10.5" lengthAdjust="spacingAndGlyphs" stroke="#2f2fb0" stroke-width="0.22" letter-spacing="0.6">C5</text>
<text x="406.5" y="239.8" font-size="8.6" fill="#2f2fb0" textLength="18.6" lengthAdjust="spacingAndGlyphs" stroke="#2f2fb0" stroke-width="0.22" letter-spacing="0.6">33pf</text>
<polyline points="395.5,119.2 395.5,144.4" fill="none" stroke="#5c5c5c" stroke-width="1.05"/>
<polyline points="388.5,144.4 402.5,144.4" fill="none" stroke="#2f2fb0" stroke-width="1"/>
<path d="M388.5,149.2 Q395.5,143.8 402.5,149.2" fill="none" stroke="#2f2fb0" stroke-width="0.9"/>
<polyline points="395.5,148 395.5,163.3 427,163.3" fill="none" stroke="#5c5c5c" stroke-width="1.05"/>
<text x="387.5" y="149.5" font-size="8.6" fill="#2f2fb0" textLength="10.5" lengthAdjust="spacingAndGlyphs" stroke="#2f2fb0" stroke-width="0.22" transform="rotate(-90 387.5 149.5)" letter-spacing="0.6">C3</text>
<text x="400.1" y="142.8" font-size="8.6" fill="#2f2fb0" text-anchor="middle" stroke="#2f2fb0" stroke-width="0.22">+</text>
<text x="410.4" y="152" font-size="8.6" fill="#2f2fb0" textLength="16" lengthAdjust="spacingAndGlyphs" stroke="#2f2fb0" stroke-width="0.22" transform="rotate(-90 410.4 152)" letter-spacing="0.6">1Øuf</text>
<polyline points="427,119.2 427,144.4" fill="none" stroke="#5c5c5c" stroke-width="1.05"/>
<polyline points="420.3,144.4 434.3,144.4" fill="none" stroke="#2f2fb0" stroke-width="1"/>
<path d="M420.3,149.2 Q427.3,143.8 434.3,149.2" fill="none" stroke="#2f2fb0" stroke-width="0.9"/>
<polyline points="427,148 427,268.8" fill="none" stroke="#5c5c5c" stroke-width="1.05"/>
<text x="419" y="151" font-size="8.6" fill="#2f2fb0" textLength="9.5" lengthAdjust="spacingAndGlyphs" stroke="#2f2fb0" stroke-width="0.22" transform="rotate(-90 419 151)" letter-spacing="0.6">C4</text>
<text x="442" y="151.3" font-size="8.6" fill="#2f2fb0" textLength="11.5" lengthAdjust="spacingAndGlyphs" stroke="#2f2fb0" stroke-width="0.22" transform="rotate(-90 442 151.3)" letter-spacing="0.6">Ø.1</text>
<polyline points="471.8,119.2 471.8,141" fill="none" stroke="#5c5c5c" stroke-width="1.05"/>
<polyline points="471.8,141 476.5,143.21 467.1,147.62 476.5,152.04 467.1,156.46 476.5,160.88 467.1,165.29 471.8,167.5" fill="none" stroke="#2f2fb0" stroke-width="1"/>
<polyline points="471.8,167.5 471.8,212.5" fill="none" stroke="#5c5c5c" stroke-width="1.05"/>
<polyline points="471.8,212.5 476.5,214.79 467.1,219.38 476.5,223.96 467.1,228.54 476.5,233.12 467.1,237.71 471.8,240" fill="none" stroke="#2f2fb0" stroke-width="1"/>
<polyline points="471.8,240 471.8,268.8" fill="none" stroke="#5c5c5c" stroke-width="1.05"/>
<text x="484" y="147.2" font-size="8.6" fill="#2f2fb0" textLength="12" lengthAdjust="spacingAndGlyphs" stroke="#2f2fb0" stroke-width="0.22" letter-spacing="0.6">R5</text>
<text x="476" y="154.2" font-size="8.6" fill="#2f2fb0" textLength="19" lengthAdjust="spacingAndGlyphs" stroke="#2f2fb0" stroke-width="0.22" letter-spacing="0.6">1ØØk</text>
<text x="484" y="218.2" font-size="8.6" fill="#2f2fb0" textLength="12" lengthAdjust="spacingAndGlyphs" stroke="#2f2fb0" stroke-width="0.22" letter-spacing="0.6">R8</text>
<text x="476" y="225.2" font-size="8.6" fill="#2f2fb0" textLength="19" lengthAdjust="spacingAndGlyphs" stroke="#2f2fb0" stroke-width="0.22" letter-spacing="0.6">1ØØk</text>
<polyline points="521.2,194.3 449.8,194.3 449.8,238" fill="none" stroke="#5c5c5c" stroke-width="1.05"/>
<polyline points="442.8,238.4 456.8,238.4" fill="none" stroke="#2f2fb0" stroke-width="1"/>
<path d="M442.8,243.2 Q449.8,237.8 456.8,243.2" fill="none" stroke="#2f2fb0" stroke-width="0.9"/>
<polyline points="449.8,242 449.8,268.8" fill="none" stroke="#5c5c5c" stroke-width="1.05"/>
<text x="441.2" y="245" font-size="8.6" fill="#2f2fb0" textLength="10.3" lengthAdjust="spacingAndGlyphs" stroke="#2f2fb0" stroke-width="0.22" transform="rotate(-90 441.2 245)" letter-spacing="0.6">C6</text>
<text x="464" y="244.3" font-size="8.6" fill="#2f2fb0" textLength="9.8" lengthAdjust="spacingAndGlyphs" stroke="#2f2fb0" stroke-width="0.22" transform="rotate(-90 464 244.3)" letter-spacing="0.6">Ø.1</text>
<polyline points="501.2,176.8 501.2,143 529.9,143" fill="none" stroke="#5c5c5c" stroke-width="1.05"/>
<polyline points="529.9,143 532.18,138.5 536.75,147.5 541.32,138.5 545.88,147.5 550.45,138.5 555.02,147.5 557.3,143" fill="none" stroke="#2f2fb0" stroke-width="1"/>
<polyline points="557.3,143 577.3,143 577.3,186.1" fill="none" stroke="#5c5c5c" stroke-width="1.05"/>
<text x="539" y="138.2" font-size="8.6" fill="#2f2fb0" textLength="12.5" lengthAdjust="spacingAndGlyphs" stroke="#2f2fb0" stroke-width="0.22" letter-spacing="0.6">R4</text>
<text x="540" y="157.2" font-size="8.6" fill="#2f2fb0" textLength="10" lengthAdjust="spacingAndGlyphs" stroke="#2f2fb0" stroke-width="0.22" letter-spacing="0.6">1M</text>
<polyline points="539.6,119.2 539.6,168.2" fill="none" stroke="#5c5c5c" stroke-width="1.05"/>
<polyline points="539.6,168.2 539.6,177.3" fill="none" stroke="#2f2fb0" stroke-width="1"/>
<polyline points="539.6,194.6 539.6,203.3" fill="none" stroke="#2f2fb0" stroke-width="1"/>
<polyline points="539.6,203.3 539.6,268.8" fill="none" stroke="#5c5c5c" stroke-width="1.05"/>
<polygon points="521.2,168 521.2,203.5 557,186.1" fill="none" stroke="#2f2fb0" stroke-width="1"/>
<text x="527.5" y="181" font-size="9" fill="#2f2fb0" text-anchor="middle" stroke="#2f2fb0" stroke-width="0.22">+</text>
<polyline points="524.5,194.3 530.5,194.3" fill="none" stroke="#2f2fb0" stroke-width="1"/>
<text x="515.6" y="176" font-size="6" fill="#000">3</text>
<text x="517" y="194" font-size="6" fill="#000">1</text>
<text x="559.6" y="184.7" font-size="6" fill="#000">4</text>
<text x="538.3" y="166.3" font-size="6" fill="#000" transform="rotate(-90 538.3 166.3)">5</text>
<text x="538.3" y="210.2" font-size="6" fill="#000" transform="rotate(-90 538.3 210.2)">2</text>
<text x="553" y="204.4" font-size="8.6" fill="#2f2fb0" textLength="9" lengthAdjust="spacingAndGlyphs" stroke="#2f2fb0" stroke-width="0.22" letter-spacing="0.6">U1</text>
<text x="551" y="214.2" font-size="8.6" fill="#2f2fb0" textLength="27" lengthAdjust="spacingAndGlyphs" stroke="#2f2fb0" stroke-width="0.22" letter-spacing="0.6">TL331B</text>
<polyline points="557,186.2 611,186.3" fill="none" stroke="#5c5c5c" stroke-width="1.05"/>
<polyline points="611,186.3 629,186.3" fill="none" stroke="#2f2fb0" stroke-width="1"/>
<polyline points="616.5,181.1 616.5,190.9" fill="none" stroke="#2f2fb0" stroke-width="1"/>
<polygon points="616.5,186.3 622.8,181.3 622.8,190.8" fill="none" stroke="#2f2fb0" stroke-width="0.9"/>
<polyline points="629,186.3 642,186.3 642,190.3 673.2,190.3" fill="none" stroke="#5c5c5c" stroke-width="1.05"/>
<polyline points="615.6,193.4 610,198.6" fill="none" stroke="#2f2fb0" stroke-width="1"/>
<polyline points="619.7,193.4 614.5,198.3" fill="none" stroke="#2f2fb0" stroke-width="1"/>
<polygon points="609.5,199.2 610.3,196.6 612.2,198.4" fill="none" stroke="#2f2fb0" stroke-width="0.8"/>
<polygon points="614,198.9 614.8,196.3 616.7,198.1" fill="none" stroke="#2f2fb0" stroke-width="0.8"/>
<text x="604" y="175.2" font-size="8.6" fill="#2f2fb0" textLength="31" lengthAdjust="spacingAndGlyphs" stroke="#2f2fb0" stroke-width="0.22" letter-spacing="0.6">RX_Led</text>
<polyline points="655,132.5 659.7,134.69 650.3,139.07 659.7,143.46 650.3,147.84 659.7,152.23 650.3,156.61 655,158.8" fill="none" stroke="#2f2fb0" stroke-width="1"/>
<polyline points="655,158.8 655,172.1 673.2,172.1" fill="none" stroke="#5c5c5c" stroke-width="1.05"/>
<text x="648.3" y="151.2" font-size="8.6" fill="#2f2fb0" textLength="10.8" lengthAdjust="spacingAndGlyphs" stroke="#2f2fb0" stroke-width="0.22" transform="rotate(-90 648.3 151.2)" letter-spacing="0.6">R2</text>
<text x="669.5" y="151.5" font-size="8.6" fill="#2f2fb0" textLength="12" lengthAdjust="spacingAndGlyphs" stroke="#2f2fb0" stroke-width="0.22" transform="rotate(-90 669.5 151.5)" letter-spacing="0.6">1k2</text>
<polygon points="673.2,168.2 709.6,168.2 709.6,194.5 673.2,194.5" fill="none" stroke="#2f2fb0" stroke-width="1"/>
<polyline points="673.2,172.1 678,172.1 678,190.3 673.2,190.3" fill="none" stroke="#2f2fb0" stroke-width="1"/>
<polygon points="675,179 681,179 678,184" fill="none" stroke="#2f2fb0" stroke-width="0.8"/>
<polyline points="675,184 681,184" fill="none" stroke="#2f2fb0" stroke-width="1"/>
<line x1="687.4" y1="172" x2="687.4" y2="190.5" stroke="#2f2fb0" stroke-width="0.9" stroke-dasharray="2,1.5"/>
<polyline points="687.4,190.3 705,190.3" fill="none" stroke="#2f2fb0" stroke-width="1"/>
<polyline points="691.6,168.2 691.6,180" fill="none" stroke="#2f2fb0" stroke-width="1"/>
<polygon points="689,180 694.2,180 691.6,175" fill="none" stroke="#2f2fb0" stroke-width="0.8"/>
<polyline points="689,175 694.2,175" fill="none" stroke="#2f2fb0" stroke-width="1"/>
<polyline points="691.6,180 691.6,182 697,182" fill="none" stroke="#2f2fb0" stroke-width="1"/>
<polyline points="697,175.5 697,187" fill="none" stroke="#2f2fb0" stroke-width="1"/>
<polyline points="697,178 705,172.1 709.6,172.1" fill="none" stroke="#2f2fb0" stroke-width="1"/>
<polyline points="697,184 705,190.3 709.6,190.3" fill="none" stroke="#2f2fb0" stroke-width="1"/>
<polygon points="705,190.3 701,189.5 703.5,186.5" fill="none" stroke="#2f2fb0" stroke-width="0.8"/>
<text x="670.5" y="170.5" font-size="5.5" fill="#000">1</text>
<text x="670.5" y="188.5" font-size="5.5" fill="#000">3</text>
<text x="689.5" y="166.5" font-size="5.5" fill="#000">6</text>
<text x="711" y="170.5" font-size="5.5" fill="#000">5</text>
<text x="711" y="188.5" font-size="5.5" fill="#000">4</text>
<text x="684" y="203.2" font-size="8.6" fill="#2f2fb0" textLength="16" lengthAdjust="spacingAndGlyphs" stroke="#2f2fb0" stroke-width="0.22" letter-spacing="0.6">VO1</text>
<text x="674" y="212.2" font-size="8.6" fill="#2f2fb0" textLength="35" lengthAdjust="spacingAndGlyphs" stroke="#2f2fb0" stroke-width="0.22" letter-spacing="0.6">TLP23Ø3</text>
<polyline points="691.6,168.2 691.6,114.5 805.3,114.5 805.3,194.4 880.5,194.4" fill="none" stroke="#5c5c5c" stroke-width="1.05"/>
<polyline points="709.6,172.1 835,172.1 835,186.5 880.5,186.5" fill="none" stroke="#5c5c5c" stroke-width="1.05"/>
<polyline points="709.6,190.3 727.5,190.3" fill="none" stroke="#5c5c5c" stroke-width="1.05"/>
<text x="734" y="94.2" font-size="8.6" fill="#2f2fb0" textLength="31" lengthAdjust="spacingAndGlyphs" stroke="#2f2fb0" stroke-width="0.22" letter-spacing="0.6">+5Vcpu</text>
<polyline points="740.8,101.2 759.4,101.2" fill="none" stroke="#2f2fb0" stroke-width="1"/>
<polyline points="750.1,101 750.1,132" fill="none" stroke="#5c5c5c" stroke-width="1.05"/>
<polyline points="727.5,114.5 727.5,135" fill="none" stroke="#5c5c5c" stroke-width="1.05"/>
<polyline points="720.5,135.7 734.5,135.7" fill="none" stroke="#2f2fb0" stroke-width="1"/>
<path d="M720.5,140.5 Q727.5,135.1 734.5,140.5" fill="none" stroke="#2f2fb0" stroke-width="0.9"/>
<polyline points="727.5,139 727.5,221.3 866.4,221.3 866.4,203.6 880.5,203.6" fill="none" stroke="#5c5c5c" stroke-width="1.05"/>
<text x="706.5" y="134.8" font-size="8.6" fill="#2f2fb0" textLength="10" lengthAdjust="spacingAndGlyphs" stroke="#2f2fb0" stroke-width="0.22" letter-spacing="0.6">C2</text>
<text x="706.5" y="143.5" font-size="8.6" fill="#2f2fb0" textLength="10.8" lengthAdjust="spacingAndGlyphs" stroke="#2f2fb0" stroke-width="0.22" letter-spacing="0.6">Ø.1</text>
<polyline points="750.1,132 754.8,134.17 745.4,138.5 754.8,142.83 745.4,147.17 754.8,151.5 745.4,155.83 750.1,158" fill="none" stroke="#2f2fb0" stroke-width="1"/>
<polyline points="750.1,158 750.1,172.1" fill="none" stroke="#5c5c5c" stroke-width="1.05"/>
<text x="756" y="143.2" font-size="8.6" fill="#2f2fb0" textLength="11" lengthAdjust="spacingAndGlyphs" stroke="#2f2fb0" stroke-width="0.22" letter-spacing="0.6">R3</text>
<text x="757" y="153.2" font-size="8.6" fill="#2f2fb0" textLength="7.5" lengthAdjust="spacingAndGlyphs" stroke="#2f2fb0" stroke-width="0.22" letter-spacing="0.6">1k</text>
<polyline points="783.3,114.5 783.3,133" fill="none" stroke="#5c5c5c" stroke-width="1.05"/>
<polyline points="776.4,133.4 790.4,133.4" fill="none" stroke="#2f2fb0" stroke-width="1"/>
<path d="M776.4,138.2 Q783.4,132.8 790.4,138.2" fill="none" stroke="#2f2fb0" stroke-width="0.9"/>
<polyline points="783.3,137 783.3,237.5" fill="none" stroke="#5c5c5c" stroke-width="1.05"/>
<polygon points="776.5,237.5 790.5,237.5 783.5,245.8" fill="none" stroke="#2f2fb0" stroke-width="0.9"/>
<text x="774.8" y="136.8" font-size="8.6" fill="#2f2fb0" textLength="8.2" lengthAdjust="spacingAndGlyphs" stroke="#2f2fb0" stroke-width="0.22" transform="rotate(-90 774.8 136.8)" letter-spacing="0.6">C1</text>
<text x="788" y="131.8" font-size="8.6" fill="#2f2fb0" text-anchor="middle" stroke="#2f2fb0" stroke-width="0.22">+</text>
<text x="798.1" y="140" font-size="8.6" fill="#2f2fb0" textLength="14.8" lengthAdjust="spacingAndGlyphs" stroke="#2f2fb0" stroke-width="0.22" transform="rotate(-90 798.1 140)" letter-spacing="0.6">1Øuf</text>
<text x="768" y="254.2" font-size="8.6" fill="#2f2fb0" textLength="31" lengthAdjust="spacingAndGlyphs" stroke="#2f2fb0" stroke-width="0.22" letter-spacing="0.6">Øv_cpu</text>
<text x="797" y="71.2" font-size="8.6" fill="#2f2fb0" textLength="36" lengthAdjust="spacingAndGlyphs" stroke="#2f2fb0" stroke-width="0.22" letter-spacing="0.6">1Wire_RX</text>
<polygon points="814.5,74.3 818.8,78.6 814.5,82.9 810.2,78.6" fill="none" stroke="#2f2fb0" stroke-width="1.1"/>
<polyline points="814.5,82.9 814.5,172.1" fill="none" stroke="#5c5c5c" stroke-width="1.05"/>
<text x="830" y="91.2" font-size="8.6" fill="#2f2fb0" textLength="37" lengthAdjust="spacingAndGlyphs" stroke="#2f2fb0" stroke-width="0.22" letter-spacing="0.6">1Wire_TX</text>
<polyline points="830,84.2 867.5,84.2" fill="none" stroke="#2f2fb0" stroke-width="1"/>
<polygon points="848.2,94.3 852.5,98.6 848.2,102.9 843.9,98.6" fill="none" stroke="#2f2fb0" stroke-width="1.1"/>
<polyline points="848.2,102.9 848.2,177.5 880.5,177.5" fill="none" stroke="#5c5c5c" stroke-width="1.05"/>
<text x="857" y="134.2" font-size="8.6" fill="#2f2fb0" textLength="18.5" lengthAdjust="spacingAndGlyphs" stroke="#2f2fb0" stroke-width="0.22" letter-spacing="0.6">+12V</text>
<polyline points="857,141 875,141" fill="none" stroke="#2f2fb0" stroke-width="1"/>
<polyline points="866.4,141 866.4,168.1 880.5,168.1" fill="none" stroke="#5c5c5c" stroke-width="1.05"/>
<polygon points="880.5,163.5 915.6,163.5 915.6,208.1 880.5,208.1" fill="none" stroke="#2f2fb0" stroke-width="1"/>
<text x="894" y="161.2" font-size="8.6" fill="#2f2fb0" textLength="7.5" lengthAdjust="spacingAndGlyphs" stroke="#2f2fb0" stroke-width="0.22" letter-spacing="0.6">J1</text>
<polyline points="880.5,168.1 899.8,168.1" fill="none" stroke="#2f2fb0" stroke-width="1"/>
<polyline points="880.5,177.5 899.8,177.5" fill="none" stroke="#2f2fb0" stroke-width="1"/>
<polyline points="880.5,186.5 899.8,186.5" fill="none" stroke="#2f2fb0" stroke-width="1"/>
<polyline points="880.5,194.4 899.8,194.4" fill="none" stroke="#2f2fb0" stroke-width="1"/>
<polyline points="880.5,203.6 899.8,203.6" fill="none" stroke="#2f2fb0" stroke-width="1"/>
<polyline points="895.5,163.5 899.8,168.1 895.3,172.8 899.8,177.5 895.3,182 899.8,186.5 895.3,190.5 899.8,194.4 895.3,199 899.8,203.6 895.5,208.1" fill="none" stroke="#2f2fb0" stroke-width="1"/>
<text x="874.5" y="166.9" font-size="5.5" fill="#000">5</text>
<text x="874.5" y="176.3" font-size="5.5" fill="#000">4</text>
<text x="874.5" y="185.3" font-size="5.5" fill="#000">3</text>
<text x="874.5" y="193.2" font-size="5.5" fill="#000">2</text>
<text x="874.5" y="202.4" font-size="5.5" fill="#000">1</text>
<text x="825.5" y="238.8" font-size="8.6" fill="#1a1a1a" textLength="121.5" lengthAdjust="spacingAndGlyphs" stroke="#1a1a1a" stroke-width="0.15" letter-spacing="0.9" word-spacing="2.2">Connection to Other Modules</text>
<text x="825.5" y="248.55" font-size="8.6" fill="#1a1a1a" textLength="184" lengthAdjust="spacingAndGlyphs" stroke="#1a1a1a" stroke-width="0.15" letter-spacing="0.9" word-spacing="2.2">Master device has the 12v source on pin5,</text>
<text x="825.5" y="258.3" font-size="8.6" fill="#1a1a1a" textLength="190" lengthAdjust="spacingAndGlyphs" stroke="#1a1a1a" stroke-width="0.15" letter-spacing="0.9" word-spacing="2.2">also join both Øv nodes as it is the source</text>
<text x="825.5" y="268.05" font-size="8.6" fill="#1a1a1a" textLength="121.5" lengthAdjust="spacingAndGlyphs" stroke="#1a1a1a" stroke-width="0.15" letter-spacing="0.9" word-spacing="2.2">of power to all slave nodes.</text>
<text x="825.5" y="277.8" font-size="8.6" fill="#1a1a1a" textLength="64.5" lengthAdjust="spacingAndGlyphs" stroke="#1a1a1a" stroke-width="0.15" letter-spacing="0.9" word-spacing="2.2">Master: join J3</text>
<text x="512" y="111" font-size="8.6" fill="#1a1a1a" textLength="157" lengthAdjust="spacingAndGlyphs" stroke="#1a1a1a" stroke-width="0.15" letter-spacing="1.1">1-wire  =  low,   U1  output  pin4  is  low</text>
<text x="619.8" y="231.6" font-size="8.6" fill="#1a1a1a" textLength="103" lengthAdjust="spacingAndGlyphs" stroke="#1a1a1a" stroke-width="0.15" letter-spacing="0.9" word-spacing="2.2">Alternative use TLP2361</text>
<text x="619.8" y="241.8" font-size="8.6" fill="#1a1a1a" textLength="140" lengthAdjust="spacingAndGlyphs" stroke="#1a1a1a" stroke-width="0.15" letter-spacing="0.9" word-spacing="2.2">leave off R3, increase R2 to 2k</text>
<text x="864" y="290.2" font-size="8.6" fill="#2f2fb0" textLength="8.5" lengthAdjust="spacingAndGlyphs" stroke="#2f2fb0" stroke-width="0.22" letter-spacing="0.6">J3</text>
<polyline points="848.3,313.7 848.3,295.3 864.5,295.3" fill="none" stroke="#5c5c5c" stroke-width="1.05"/>
<polyline points="873.5,295.3 886.3,295.3 886.3,313.7" fill="none" stroke="#5c5c5c" stroke-width="1.05"/>
<path d="M868.3,292.6 A3.5,3.5 0 0 0 868.3,299.6 Z M869.8,292.6 A3.5,3.5 0 0 1 869.8,299.6 Z" fill="none" stroke="#2f2fb0" stroke-width="0.9"/>
<polygon points="841.3,313.7 855.3,313.7 848.3,322" fill="none" stroke="#2f2fb0" stroke-width="0.9"/>
<polygon points="879.3,313.7 893.3,313.7 886.3,322" fill="none" stroke="#2f2fb0" stroke-width="0.9"/>
<text x="844" y="330.2" font-size="8.6" fill="#2f2fb0" textLength="9" lengthAdjust="spacingAndGlyphs" stroke="#2f2fb0" stroke-width="0.22" letter-spacing="0.6">Øv</text>
<text x="871" y="330.2" font-size="8.6" fill="#2f2fb0" textLength="30" lengthAdjust="spacingAndGlyphs" stroke="#2f2fb0" stroke-width="0.22" letter-spacing="0.6">Øv_cpu</text>
<polygon points="10.3,297.9 46.5,297.9 46.5,324.5 10.3,324.5" fill="none" stroke="#2f2fb0" stroke-width="1"/>
<text x="24" y="296.2" font-size="8.6" fill="#2f2fb0" textLength="8" lengthAdjust="spacingAndGlyphs" stroke="#2f2fb0" stroke-width="0.22" letter-spacing="0.6">J2</text>
<polyline points="26.5,302.5 46.5,302.5" fill="none" stroke="#2f2fb0" stroke-width="1"/>
<polyline points="26.5,311.3 46.5,311.3" fill="none" stroke="#2f2fb0" stroke-width="1"/>
<polyline points="26.5,319.9 46.5,319.9" fill="none" stroke="#2f2fb0" stroke-width="1"/>
<polyline points="30,297.9 26.5,302.5 31,306.9 26.5,311.3 31,315.6 26.5,319.9 30,324.5" fill="none" stroke="#2f2fb0" stroke-width="1"/>
<text x="48" y="301.3" font-size="5.5" fill="#000">3</text>
<text x="48" y="310.1" font-size="5.5" fill="#000">2</text>
<text x="48" y="318.7" font-size="5.5" fill="#000">1</text>
<polyline points="46.5,302.5 102,302.5 102,271.3" fill="none" stroke="#5c5c5c" stroke-width="1.05"/>
<text x="93" y="263.2" font-size="8.6" fill="#2f2fb0" textLength="18.5" lengthAdjust="spacingAndGlyphs" stroke="#2f2fb0" stroke-width="0.22" letter-spacing="0.6">+12V</text>
<polyline points="93,271.3 111,271.3" fill="none" stroke="#2f2fb0" stroke-width="1"/>
<polyline points="46.5,311.3 136.3,311.3 136.3,268.8" fill="none" stroke="#5c5c5c" stroke-width="1.05"/>
<polygon points="136.3,260.2 140.6,264.5 136.3,268.8 132,264.5" fill="none" stroke="#2f2fb0" stroke-width="1.1"/>
<text x="113" y="258.2" font-size="8.6" fill="#2f2fb0" textLength="45" lengthAdjust="spacingAndGlyphs" stroke="#2f2fb0" stroke-width="0.22" letter-spacing="0.6">1Wire_Data</text>
<polyline points="46.5,319.9 104.3,319.9 104.3,338" fill="none" stroke="#5c5c5c" stroke-width="1.05"/>
<polygon points="97.3,338 111.3,338 104.3,346.3" fill="none" stroke="#2f2fb0" stroke-width="0.9"/>
<text x="99.5" y="354.2" font-size="8.6" fill="#2f2fb0" textLength="9" lengthAdjust="spacingAndGlyphs" stroke="#2f2fb0" stroke-width="0.22" letter-spacing="0.6">Øv</text>
<text x="3" y="345.8" font-size="12.8" fill="#000" font-weight="bold" textLength="62" lengthAdjust="spacingAndGlyphs">1-Wire Bus</text>
<text x="181" y="370" font-size="10.2" fill="#000" textLength="63.3" lengthAdjust="spacingAndGlyphs" stroke="#000" stroke-width="0.3">Slew rate limit</text>
<polyline points="167.4,373.8 203.3,373.8 203.3,391" fill="none" stroke="#5c5c5c" stroke-width="1.05"/>
<polyline points="196.3,390.5 210.3,390.5" fill="none" stroke="#2f2fb0" stroke-width="1"/>
<path d="M196.3,395.3 Q203.3,389.9 210.3,395.3" fill="none" stroke="#2f2fb0" stroke-width="0.9"/>
<polyline points="203.3,395 203.3,418.5" fill="none" stroke="#5c5c5c" stroke-width="1.05"/>
<text x="213.6" y="387.6" font-size="8.6" fill="#2f2fb0" textLength="11" lengthAdjust="spacingAndGlyphs" stroke="#2f2fb0" stroke-width="0.22" letter-spacing="0.6">C9</text>
<text x="213.6" y="396" font-size="8.6" fill="#2f2fb0" textLength="18.4" lengthAdjust="spacingAndGlyphs" stroke="#2f2fb0" stroke-width="0.22" letter-spacing="0.6">22pf</text>
<polyline points="167.4,411.7 176.6,411.7" fill="none" stroke="#2f2fb0" stroke-width="1"/>
<polyline points="167.4,424.5 176.6,424.5" fill="none" stroke="#2f2fb0" stroke-width="1"/>
<polyline points="167.4,418.7 167.4,424.5" fill="none" stroke="#2f2fb0" stroke-width="1"/>
<polyline points="167.4,418.7 176.6,418.7" fill="none" stroke="#2f2fb0" stroke-width="1"/>
<polygon points="171,418.7 174.5,416.8 174.5,420.6" fill="none" stroke="#2f2fb0" stroke-width="0.8"/>
<polyline points="176.6,409.8 176.6,413.6" fill="none" stroke="#2f2fb0" stroke-width="1"/>
<polyline points="176.6,416.8 176.6,420.6" fill="none" stroke="#2f2fb0" stroke-width="1"/>
<polyline points="176.6,422.6 176.6,427.4" fill="none" stroke="#2f2fb0" stroke-width="1"/>
<polyline points="178.5,409.8 178.5,427.4" fill="none" stroke="#2f2fb0" stroke-width="1"/>
<polyline points="178.5,418.7 185,418.7" fill="none" stroke="#2f2fb0" stroke-width="1"/>
<polyline points="167.4,409.3 158.3,409.3 158.3,427.7 167.4,427.7" fill="none" stroke="#2f2fb0" stroke-width="1"/>
<polygon points="155.5,421 161.1,421 158.3,415.5" fill="none" stroke="#2f2fb0" stroke-width="0.8"/>
<polyline points="155.5,415.5 161.1,415.5" fill="none" stroke="#2f2fb0" stroke-width="1"/>
<polyline points="167.4,427.7 167.4,481.4 301.3,481.4 301.3,436.3" fill="none" stroke="#5c5c5c" stroke-width="1.05"/>
<polyline points="185,418.5 216.3,418.5" fill="none" stroke="#5c5c5c" stroke-width="1.05"/>
<polyline points="216.3,418.5 218.57,414 223.1,423 227.63,414 232.17,423 236.7,414 241.23,423 243.5,418.5" fill="none" stroke="#2f2fb0" stroke-width="1"/>
<polyline points="243.5,418.5 346.3,418.5" fill="none" stroke="#5c5c5c" stroke-width="1.05"/>
<text x="225" y="411.2" font-size="8.6" fill="#2f2fb0" textLength="10" lengthAdjust="spacingAndGlyphs" stroke="#2f2fb0" stroke-width="0.22" letter-spacing="0.6">R9</text>
<text x="226" y="433.2" font-size="8.6" fill="#2f2fb0" textLength="9.5" lengthAdjust="spacingAndGlyphs" stroke="#2f2fb0" stroke-width="0.22" letter-spacing="0.6">2Ø</text>
<text x="143" y="423.2" font-size="8.6" fill="#2f2fb0" textLength="9" lengthAdjust="spacingAndGlyphs" stroke="#2f2fb0" stroke-width="0.22" letter-spacing="0.6">Q1</text>
<text x="127" y="437.2" font-size="8.6" fill="#2f2fb0" textLength="35" lengthAdjust="spacingAndGlyphs" stroke="#2f2fb0" stroke-width="0.22" letter-spacing="0.6">4Øv  Nch</text>
<text x="271" y="309.2" font-size="8.6" fill="#2f2fb0" textLength="25" lengthAdjust="spacingAndGlyphs" stroke="#2f2fb0" stroke-width="0.22" letter-spacing="0.6">+12AV</text>
<polyline points="275,315.5 292,315.5" fill="none" stroke="#2f2fb0" stroke-width="1"/>
<polyline points="283.3,315.5 283.3,400 346.3,400" fill="none" stroke="#5c5c5c" stroke-width="1.05"/>
<polyline points="261.3,358.8 261.3,333 301.3,333 301.3,351" fill="none" stroke="#5c5c5c" stroke-width="1.05"/>
<polyline points="254.4,359.5 268.4,359.5" fill="none" stroke="#2f2fb0" stroke-width="1"/>
<path d="M254.4,364.3 Q261.4,358.9 268.4,364.3" fill="none" stroke="#2f2fb0" stroke-width="0.9"/>
<polyline points="261.3,362.8 261.3,494.5" fill="none" stroke="#5c5c5c" stroke-width="1.05"/>
<polygon points="254.3,494.5 268.3,494.5 261.3,502.8" fill="none" stroke="#2f2fb0" stroke-width="0.9"/>
<text x="256.5" y="511.2" font-size="8.6" fill="#2f2fb0" textLength="9.5" lengthAdjust="spacingAndGlyphs" stroke="#2f2fb0" stroke-width="0.22" letter-spacing="0.6">Øv</text>
<text x="262.7" y="353.8" font-size="8.6" fill="#2f2fb0" textLength="10.6" lengthAdjust="spacingAndGlyphs" stroke="#2f2fb0" stroke-width="0.22" letter-spacing="0.6">C8</text>
<text x="262.7" y="376.2" font-size="8.6" fill="#2f2fb0" textLength="11" lengthAdjust="spacingAndGlyphs" stroke="#2f2fb0" stroke-width="0.22" letter-spacing="0.6">Ø.1</text>
<polyline points="294.5,350.5 308.5,350.5" fill="none" stroke="#2f2fb0" stroke-width="1"/>
<path d="M294.5,355.3 Q301.5,349.9 308.5,355.3" fill="none" stroke="#2f2fb0" stroke-width="0.9"/>
<polyline points="301.3,355 301.3,436.3 346.3,436.3" fill="none" stroke="#5c5c5c" stroke-width="1.05"/>
<text x="293.4" y="355" font-size="8.6" fill="#2f2fb0" textLength="10" lengthAdjust="spacingAndGlyphs" stroke="#2f2fb0" stroke-width="0.22" transform="rotate(-90 293.4 355)" letter-spacing="0.6">C7</text>
<text x="306.4" y="349" font-size="8.6" fill="#2f2fb0" text-anchor="middle" stroke="#2f2fb0" stroke-width="0.22">+</text>
<text x="316.5" y="357.7" font-size="8.6" fill="#2f2fb0" textLength="15" lengthAdjust="spacingAndGlyphs" stroke="#2f2fb0" stroke-width="0.22" transform="rotate(-90 316.5 357.7)" letter-spacing="0.6">1Øuf</text>
<polygon points="346.3,391.3 436.3,391.3 436.3,445 346.3,445" fill="none" stroke="#2f2fb0" stroke-width="1"/>
<text x="386" y="390.2" font-size="8.6" fill="#2f2fb0" textLength="10" lengthAdjust="spacingAndGlyphs" stroke="#2f2fb0" stroke-width="0.22" letter-spacing="0.6">U2</text>
<text x="378" y="452.5" font-size="8.6" fill="#2f2fb0" textLength="27.5" lengthAdjust="spacingAndGlyphs" stroke="#2f2fb0" stroke-width="0.22" letter-spacing="0.6">TLP152</text>
<text x="341.5" y="398.5" font-size="5.5" fill="#000">8</text>
<text x="341.5" y="416.8" font-size="5.5" fill="#000">5</text>
<text x="341.5" y="434.8" font-size="5.5" fill="#000">4</text>
<text x="438.5" y="398.5" font-size="5.5" fill="#000">1</text>
<text x="438.5" y="434.8" font-size="5.5" fill="#000">3</text>
<text x="350" y="403" font-size="6.8" fill="#000" textLength="13" lengthAdjust="spacingAndGlyphs">VCC</text>
<text x="350" y="421.2" font-size="6.8" fill="#000" textLength="8.5" lengthAdjust="spacingAndGlyphs">VO</text>
<text x="350" y="439.2" font-size="6.8" fill="#000" textLength="13" lengthAdjust="spacingAndGlyphs">GND</text>
<text x="411" y="403" font-size="6.8" fill="#000" textLength="22" lengthAdjust="spacingAndGlyphs">ANODE</text>
<text x="401" y="439.2" font-size="6.8" fill="#000" textLength="32" lengthAdjust="spacingAndGlyphs">CATHODE</text>
<polyline points="436.3,400 468.8,400" fill="none" stroke="#5c5c5c" stroke-width="1.05"/>
<polyline points="468.8,400 471.07,395.5 475.6,404.5 480.13,395.5 484.67,404.5 489.2,395.5 493.73,404.5 496,400" fill="none" stroke="#2f2fb0" stroke-width="1"/>
<polyline points="496,400 512,400 512,382.8" fill="none" stroke="#5c5c5c" stroke-width="1.05"/>
<polygon points="512,374.2 516.3,378.5 512,382.8 507.7,378.5" fill="none" stroke="#2f2fb0" stroke-width="1.1"/>
<text x="494" y="371.2" font-size="8.6" fill="#2f2fb0" textLength="37" lengthAdjust="spacingAndGlyphs" stroke="#2f2fb0" stroke-width="0.22" letter-spacing="0.6">1Wire_TX</text>
<polyline points="494,363.7 531.5,363.7" fill="none" stroke="#2f2fb0" stroke-width="1"/>
<text x="476" y="393.2" font-size="8.6" fill="#2f2fb0" textLength="14" lengthAdjust="spacingAndGlyphs" stroke="#2f2fb0" stroke-width="0.22" letter-spacing="0.6">R1Ø</text>
<text x="476" y="413.2" font-size="8.6" fill="#2f2fb0" textLength="15" lengthAdjust="spacingAndGlyphs" stroke="#2f2fb0" stroke-width="0.22" letter-spacing="0.6">22Ø</text>
<text x="465" y="427.2" font-size="12.5" fill="#000" textLength="34.5" lengthAdjust="spacingAndGlyphs" stroke="#000" stroke-width="0.45">1ØmA</text>
<polyline points="436.3,436.3 449.5,436.3 449.5,461.3" fill="none" stroke="#5c5c5c" stroke-width="1.05"/>
<polygon points="442.5,461.3 456.5,461.3 449.5,469.6" fill="none" stroke="#2f2fb0" stroke-width="0.9"/>
<text x="434" y="477.2" font-size="8.6" fill="#2f2fb0" textLength="31" lengthAdjust="spacingAndGlyphs" stroke="#2f2fb0" stroke-width="0.22" letter-spacing="0.6">Øv_cpu</text>
<circle cx="167.4" cy="199.3" r="2" fill="#000"/>
<circle cx="229.5" cy="199.3" r="2" fill="#000"/>
<circle cx="310.5" cy="199.3" r="2" fill="#000"/>
<circle cx="366.5" cy="199.3" r="2" fill="#000"/>
<circle cx="290.5" cy="119.2" r="2" fill="#000"/>
<circle cx="310.5" cy="119.2" r="2" fill="#000"/>
<circle cx="366.5" cy="119.2" r="2" fill="#000"/>
<circle cx="395.5" cy="119.2" r="2" fill="#000"/>
<circle cx="427" cy="119.2" r="2" fill="#000"/>
<circle cx="471.8" cy="119.2" r="2" fill="#000"/>
<circle cx="539.4" cy="119.2" r="2" fill="#000"/>
<circle cx="366.5" cy="176.8" r="2" fill="#000"/>
<circle cx="366.5" cy="268.8" r="2" fill="#000"/>
<circle cx="395.3" cy="268.8" r="2" fill="#000"/>
<circle cx="427" cy="163.3" r="2" fill="#000"/>
<circle cx="427" cy="268.8" r="2" fill="#000"/>
<circle cx="471.8" cy="194.5" r="2" fill="#000"/>
<circle cx="471.8" cy="268.8" r="2" fill="#000"/>
<circle cx="449.8" cy="268.8" r="2" fill="#000"/>
<circle cx="501.2" cy="176.8" r="2" fill="#000"/>
<circle cx="577.3" cy="186.1" r="2" fill="#000"/>
<circle cx="727.5" cy="190.3" r="2" fill="#000"/>
<circle cx="727.5" cy="114.5" r="2" fill="#000"/>
<circle cx="750.1" cy="114.5" r="2" fill="#000"/>
<circle cx="783.3" cy="114.5" r="2" fill="#000"/>
<circle cx="750.1" cy="172.1" r="2" fill="#000"/>
<circle cx="783.3" cy="221.3" r="2" fill="#000"/>
<circle cx="814.5" cy="172.1" r="2" fill="#000"/>
<circle cx="167.4" cy="373.8" r="2" fill="#000"/>
<circle cx="203.3" cy="418.5" r="2" fill="#000"/>
<circle cx="283.3" cy="333" r="2" fill="#000"/>
<circle cx="261.3" cy="481.4" r="2" fill="#000"/>
<circle cx="301.3" cy="436.3" r="2" fill="#000"/>
<text x="18.6" y="99" font-size="12.9" textLength="62.5" lengthAdjust="spacingAndGlyphs" fill="#7a4242" stroke="#fff" stroke-width="0.7" paint-order="stroke">Solar Mike</text>
<text x="18.6" y="118.8" font-size="10.9" textLength="109.5" lengthAdjust="spacingAndGlyphs" fill="#7a4242" stroke="#fff" stroke-width="0.7" paint-order="stroke">www.thebackshed.com</text>
<text x="18.6" y="133.7" font-size="10.8" textLength="54.5" lengthAdjust="spacingAndGlyphs" fill="#7a4242" stroke="#fff" stroke-width="0.7" paint-order="stroke">2026-01-10</text>
</svg></body></html>
